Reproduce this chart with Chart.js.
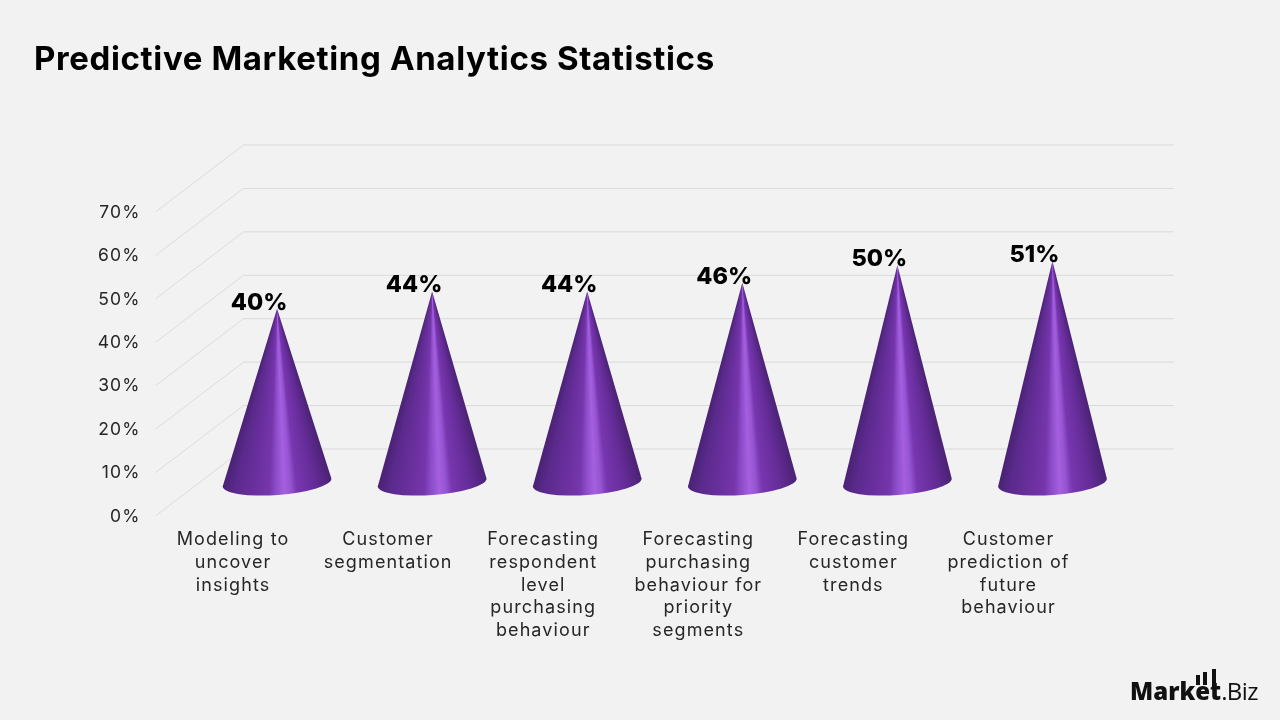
<!DOCTYPE html>
<html>
<head>
<meta charset="utf-8">
<title>Predictive Marketing Analytics Statistics</title>
<script src="https://cdn.jsdelivr.net/npm/chart.js@4/dist/chart.umd.js"></script>
<style>
    html, body { margin: 0; background: #f2f2f2; }
    #wrap { position: relative; width: 1280px; height: 720px; overflow: hidden; font-family: Inter, sans-serif; }
    canvas { position: absolute; left: 0; top: 0; }
    h1 { position: absolute; left: 34px; top: 38px; margin: 0; font-size: 33px; line-height: 40px; font-weight: 700; letter-spacing: 0.63px; color: #000; white-space: nowrap; }
    #logo { position: absolute; left: 1130px; top: 676px; font-size: 24px; line-height: 30px; color: #111; white-space: nowrap; font-family: "Open Sans", sans-serif; }
    #logo b { font-weight: 800; }
    #logo u { position: relative; text-decoration: none; }
    #logo span { font-weight: 400; letter-spacing: -0.6px; }
    #logo i { position: absolute; width: 4px; background: #111; }
</style>
</head>
<body>
<div id="wrap">
    <canvas id="myChart" width="1280" height="720"></canvas>
    <h1>Predictive Marketing Analytics Statistics</h1>
    <div id="logo"><b>Mark<u>e<i style="left:1px;top:1px;height:10px"></i><i style="left:8px;top:-2px;height:13px"></i></u><u>t<i style="left:2px;top:-5px;height:20px"></i></u></b><span>.Biz</span></div>
</div>
<script>
const categories = [
    ['Modeling to', 'uncover', 'insights'],
    ['Customer', 'segmentation'],
    ['Forecasting', 'respondent', 'level', 'purchasing', 'behaviour'],
    ['Forecasting', 'purchasing', 'behaviour for', 'priority', 'segments'],
    ['Forecasting', 'customer', 'trends'],
    ['Customer', 'prediction of', 'future', 'behaviour']
];
const values = [40, 44, 44, 46, 50, 51];
const yTicks = [0, 10, 20, 30, 40, 50, 60, 70];

// floor depth of the fake 3D box
const DEPTH_X = 88;
const DEPTH_Y = -67;

// shading across a cone, left edge to right edge
const coneStops = [
    [0, 'rgb(74,34,116)'],
    [0.1, 'rgb(90,42,140)'],
    [0.3, 'rgb(108,48,160)'],
    [0.42, 'rgb(118,54,172)'],
    [0.48, 'rgb(140,76,200)'],
    [0.56, 'rgb(165,95,224)'],
    [0.62, 'rgb(150,85,210)'],
    [0.68, 'rgb(120,54,175)'],
    [0.85, 'rgb(101,44,152)'],
    [1, 'rgb(74,34,116)']
];

// back wall and the slanted lines on the side wall
const boxGrid = {
    id: 'boxGrid',
    beforeDraw(chart) {
        // wider tracking for the axis labels
        chart.ctx.letterSpacing = '1.1px';
    },
    beforeDatasetsDraw(chart) {
        const { ctx, chartArea, scales } = chart;
        ctx.save();
        ctx.lineWidth = 1;
        yTicks.forEach(v => {
            const y = scales.y.getPixelForValue(v);
            ctx.strokeStyle = '#dcdcdc';
            ctx.beginPath();
            ctx.moveTo(chartArea.left, y);
            ctx.lineTo(chartArea.left + DEPTH_X, y + DEPTH_Y);
            ctx.stroke();
            ctx.strokeStyle = '#d9d9d9';
            ctx.beginPath();
            ctx.moveTo(chartArea.left + DEPTH_X, y + DEPTH_Y);
            ctx.lineTo(chartArea.right + DEPTH_X, y + DEPTH_Y);
            ctx.stroke();
        });
        ctx.restore();
    }
};

// the bars stay transparent, each one is painted as a cone from its own x / y / base
const cones = {
    id: 'cones',
    afterDatasetsDraw(chart) {
        const { ctx } = chart;
        const meta = chart.getDatasetMeta(0);
        meta.data.forEach((bar, i) => {
            const cx = bar.x + DEPTH_X / 2;
            const cy = bar.base + DEPTH_Y / 2;
            const tipY = bar.y + DEPTH_Y / 2;
            const a = bar.width / 2;
            const b = 12.5;
            const rot = -0.073;

            // conic fill around the tip so the highlight narrows towards it
            const grad = ctx.createConicGradient(0, cx, tipY);
            [...coneStops].reverse().forEach(([t, color]) => {
                const th = Math.acos(2 * t - 1);
                const px = cx + a * Math.cos(th) * Math.cos(rot) - b * Math.sin(th) * Math.sin(rot);
                const py = cy + a * Math.cos(th) * Math.sin(rot) + b * Math.sin(th) * Math.cos(rot);
                grad.addColorStop(Math.atan2(py - tipY, px - cx) / (2 * Math.PI), color);
            });

            ctx.save();
            ctx.fillStyle = grad;
            ctx.beginPath();
            ctx.moveTo(cx, tipY);
            ctx.ellipse(cx, cy, a, b, rot, Math.PI, 0, true);
            ctx.closePath();
            ctx.fill();

            ctx.letterSpacing = '0px';
            ctx.fillStyle = '#000';
            ctx.font = '800 23.5px Inter, sans-serif';
            ctx.textAlign = 'center';
            ctx.textBaseline = 'middle';
            ctx.fillText(values[i] + '%', cx - 18, tipY - 6);
            ctx.restore();
        });
    }
};

new Chart(document.getElementById('myChart'), {
    type: 'bar',
    plugins: [boxGrid, cones],
    data: {
        labels: categories,
        datasets: [{
            data: values,
            backgroundColor: 'transparent',
            barThickness: 109
        }]
    },
    options: {
        responsive: false,
        animation: false,
        events: [],
        layout: { padding: { top: 212, right: 194, bottom: 0, left: 0 } },
        plugins: { legend: { display: false }, tooltip: { enabled: false } },
        scales: {
            x: {
                grid: { display: false },
                border: { display: false },
                afterFit: scale => { scale.height = 204; },
                ticks: {
                    autoSkip: false,
                    maxRotation: 0,
                    minRotation: 0,
                    padding: 4,
                    color: '#262626',
                    font: { family: 'Inter, sans-serif', size: 18, lineHeight: 1.27 }
                }
            },
            y: {
                min: 0,
                max: 70,
                grid: { display: false },
                border: { display: false },
                afterFit: scale => { scale.width = 155.5; },
                afterBuildTicks: scale => { scale.ticks = yTicks.map(value => ({ value })); },
                ticks: {
                    padding: 7,
                    labelOffset: 0.5,
                    color: '#262626',
                    font: { family: 'Inter, sans-serif', size: 17.5 },
                    callback: v => v + '%'
                }
            }
        }
    }
});
</script>
</body>
</html>
